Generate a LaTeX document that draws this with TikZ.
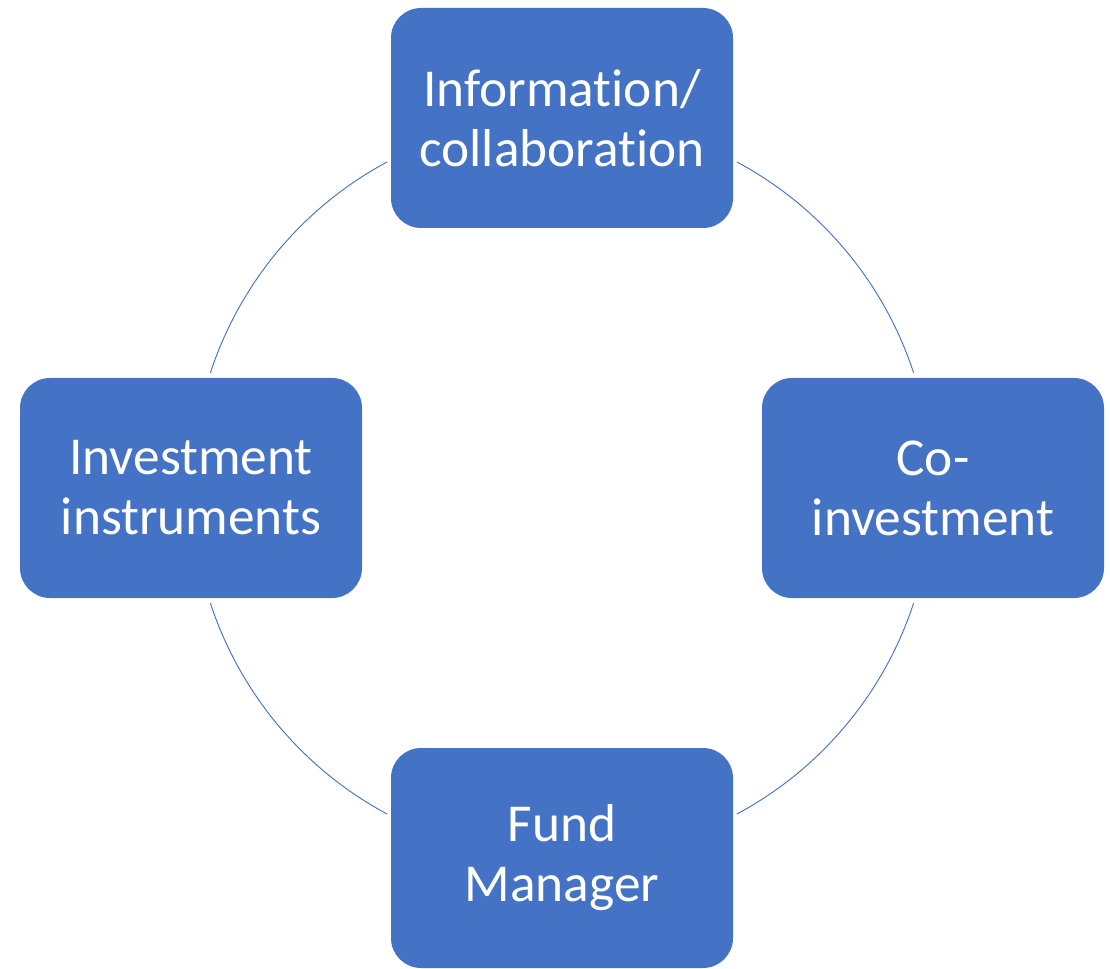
\documentclass[tikz,border=0pt]{standalone}
\usepackage{fontspec}
\setmainfont[Ligatures=NoCommon]{Carlito}
\definecolor{accent}{HTML}{4472C4}
\begin{document}
\begin{tikzpicture}[x=0.75pt,y=-0.75pt,
  cyclebox/.style={draw=none, fill=accent, rounded corners=22.5pt,
    minimum width=256.5pt, minimum height=165pt, inner sep=0pt,
    text=white, align=center,
    font=\fontsize{40pt}{45pt}\selectfont},
  link/.style={draw=accent, line width=0.7pt}]
  \useasboundingbox (0,0) rectangle (1110,969);
  \coordinate (hub) at (562,488);

  % ring arcs between the boxes
  \draw[link] ([shift={(18.1:277.5pt)}]hub) arc[start angle=18.1, end angle=61.8, radius=277.5pt];
  \draw[link] ([shift={(118.2:277.5pt)}]hub) arc[start angle=118.2, end angle=161.9, radius=277.5pt];
  \draw[link] ([shift={(198.1:277.5pt)}]hub) arc[start angle=198.1, end angle=241.8, radius=277.5pt];
  \draw[link] ([shift={(298.2:277.5pt)}]hub) arc[start angle=298.2, end angle=341.9, radius=277.5pt];

  % the four stages
  \node[cyclebox] (info) at (562,118) {Information/\\collaboration};
  \node[cyclebox] (coinv) at (933,488) {Co-\\investment};
  \node[cyclebox] (fund) at (562,858) {Fund\\Manager};
  \node[cyclebox] (instr) at (191,488) {Investment\\instruments};
\end{tikzpicture}
\end{document}
